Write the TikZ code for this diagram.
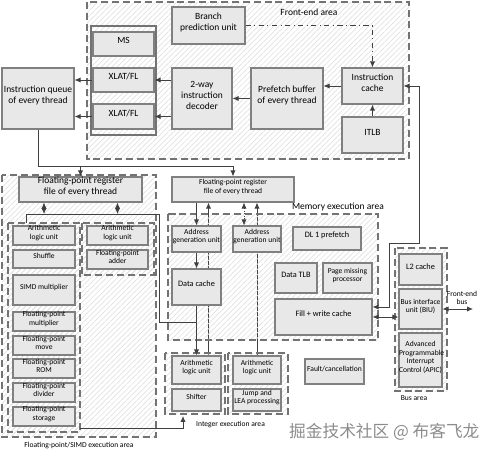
\documentclass[tikz,border=0pt]{standalone}
\usepackage{fontspec}
\setmainfont{Carlito}
\newfontfamily\cjkfont{Noto Sans CJK SC}
\usetikzlibrary{arrows.meta,patterns,fit,calc}
\pgfdeclarelayer{wires}
\pgfsetlayers{wires,main}
\newcommand{\bigfont}{\fontsize{5.4}{6.3}\selectfont}
\newcommand{\midfont}{\fontsize{4.7}{5.4}\selectfont}
\newcommand{\smallfont}{\fontsize{4.3}{4.8}\selectfont}
\tikzset{
  area/.style={draw=black!55, line width=0.6pt, dash pattern=on 4pt off 2.2pt, pattern=north east lines, pattern color=black!12},
  unit/.style={draw=black!50, fill=black!9, line width=0.7pt, inner sep=0pt, align=center, font=\bigfont},
  wire/.style={draw=black!75, line width=0.45pt},
  flow/.style={wire, -{Latex[length=3.4pt,width=3pt]}},
  dflow/.style={wire, {Latex[length=3.4pt,width=3pt]}-{Latex[length=3.4pt,width=3pt]}},
}

\begin{document}
\begin{tikzpicture}[x=0.02cm, y=-0.02cm]
    \useasboundingbox (0,0) rectangle (480,453);
    % areas
    \draw[area] (87,2) rectangle (409,159); % front-end
    \draw[area] (2,175) rectangle (156,437); % floating point / SIMD
    \draw[area] (8,223) rectangle (80,432);
    \draw[area] (82,223) rectangle (154,275);
    \draw[area] (168,214) rectangle (378,340); % memory
    \draw[area] (165,353) rectangle (225,414); % integer
    \draw[area] (228,353) rectangle (288,414);
    \draw[area] (395,248) rectangle (447,391); % bus
    \draw[draw=black!55, line width=0.6pt] (91,26) rectangle (156,135);

    \node[font=\bigfont] (felabel) at (309,12) {Front-end area};
    \node[font=\bigfont, anchor=east] (memlabel) at (390,207) {Memory execution area};
    \node[font=\smallfont] (fplabel) at (79,446) {Floating-point/SIMD execution area};
    \node[font=\smallfont, anchor=west] (intlabel) at (190,425) {Integer execution area};
    \node[font=\smallfont] (buslabel) at (414,398) {Bus area};

    % front-end units
    \node[unit, fit={(172,7) (245,44)}] (bpu) {Branch\\prediction unit};
    \node[unit, fit={(93,32) (154,56)}] (ms) {MS};
    \node[unit, fit={(93,68) (154,92)}] (xlat1) {XLAT/FL};
    \node[unit, fit={(93,104) (154,129)}] (xlat2) {XLAT/FL};
    \node[unit, fit={(172,68) (232,129)}] (dec) {2-way\\instruction\\decoder};
    \node[unit, fit={(2,68) (74,129)}] (queue) {Instruction queue\\of every thread};
    \node[unit, fit={(251,68) (323,129)}] (pfb) {Prefetch buffer\\of every thread};
    \node[unit, fit={(342,68) (403,104)}] (icache) {Instruction\\cache};
    \node[unit, fit={(342,117) (403,153)}] (itlb) {ITLB};

    % floating point units
    \node[unit, fit={(19,177) (142,202)}] (fpreg) {Floating-point register\\file of every thread};
    \node[unit, font=\smallfont, fit={(13,226) (75,245)}] (fpalu1) {Arithmetic\\logic unit};
    \node[unit, font=\smallfont, fit={(13,250) (75,268)}] (shuffle) {Shuffle};
    \node[unit, font=\smallfont, fit={(13,275) (75,305)}] (simdmul) {SIMD multiplier};
    \foreach \y/\name/\txt in {312/fpmul/multiplier, 336/fpmove/move, 359/fprom/ROM, 383/fpdiv/divider, 407/fpstore/storage}{
        \node[unit, font=\smallfont, fit={(13,\y) (75,\y+19)}] (\name) {Floating-point\\\txt};
    }
    \node[unit, font=\smallfont, fit={(87,226) (148,245)}] (fpalu2) {Arithmetic\\logic unit};
    \node[unit, font=\smallfont, fit={(87,250) (148,269)}] (fpadd) {Floating-point\\adder};

    % memory units
    \node[unit, font=\smallfont, fit={(172,177) (294,202)}] (intreg) {Floating-point register\\file of every thread};
    \node[unit, font=\smallfont, fit={(172,226) (221,252)}] (agu1) {Address\\generation unit};
    \node[unit, font=\smallfont, fit={(233,226) (281,252)}] (agu2) {Address\\generation unit};
    \node[unit, font=\midfont, fit={(293,227) (361,250)}] (dlpf) {DL 1 prefetch};
    \node[unit, font=\midfont, fit={(172,269) (221,305)}] (dcache) {Data cache};
    \node[unit, font=\midfont, fit={(275,263) (317,293)}] (dtlb) {Data TLB};
    \node[unit, font=\smallfont, fit={(323,263) (372,293)}] (pmp) {Page missing\\processor};
    \node[unit, font=\midfont, fit={(275,299) (372,335)}] (fwc) {Fill + write cache};

    % integer units
    \node[unit, font=\smallfont, fit={(172,356) (221,384)}] (ialu1) {Arithmetic\\logic unit};
    \node[unit, font=\smallfont, fit={(172,389) (221,411)}] (shifter) {Shifter};
    \node[unit, font=\smallfont, fit={(233,356) (281,384)}] (ialu2) {Arithmetic\\logic unit};
    \node[unit, font=\smallfont, fit={(233,389) (281,411)}] (jump) {Jump and\\LEA processing};
    \node[unit, font=\smallfont, fit={(305,359) (364,384)}] (fault) {Fault/cancellation};

    % bus units
    \node[unit, font=\midfont, fit={(399,254) (442,285)}] (l2) {L2 cache};
    \node[unit, font=\smallfont, fit={(399,289) (442,329)}] (biu) {Bus interface\\unit (BIU)};
    \node[unit, font=\smallfont, fit={(399,333) (442,387)}] (apic) {Advanced\\Programmable\\Interrupt\\Control (APIC)};
    \node[font=\smallfont, align=center, inner sep=1pt] (fsblabel) at (462,298) {Front-end\\bus};

    % front-end flow
    \draw[flow, dash dot] (bpu.east) -| (icache.north);
    \draw[flow] (icache.west) -- (icache.west -| pfb.east);
    \draw[flow] (pfb.west) -- (pfb.west -| dec.east);
    \draw[flow] (dec.west |- xlat1.east) -- (xlat1.east);
    \draw[flow] (dec.west |- xlat2.east) -- (xlat2.east);
    \draw[flow] (xlat1.west) -- (xlat1.west -| queue.east);
    \draw[flow] (xlat2.west) -- (xlat2.west -| queue.east);
    \draw[flow] (itlb.north) -- (icache.south);

    % queue to register files
    \coordinate (qbus) at (38,166);
    \draw[flow] (queue.south) -- (queue.south |- qbus) -| (fpreg.north);
    \draw[flow] (qbus -| fpreg.north) -| (intreg.north);

    % floating point links
    \coordinate (fpsub) at (26,223);
    \coordinate (fpbus) at (26,214);
    \coordinate (fpjoin) at (159,322);
    \draw[wire] (fpsub) -- (fpbus) -| (fpjoin) -- (fpjoin -| dcache.south);
    \draw[dflow] (fpreg.south -| fpalu1.north) -- (fpbus -| fpalu1.north);
    \draw[dflow] (fpreg.south -| fpalu2.north) -- (fpbus -| fpalu2.north);
    \coordinate (fpout) at (80,428);
    \coordinate (intin) at (183,416);
    \draw[flow] (fpout) -| (intin);

    % memory links
    \draw[flow] (intreg.south -| agu1.north) -- (agu1.north);
    \draw[flow] (agu1.south) -- (dcache.north);
    \draw[flow] (dcache.south) -- (ialu1.north);
    \coordinate (up1) at ($(ialu1.north)+(12,0)$);
    \begin{pgfonlayer}{wires}
        \draw[flow] (up1) -- (up1 |- intreg.south);
        \draw[flow] (ialu2.north) -- (ialu2.north |- intreg.south);
    \end{pgfonlayer}
    \coordinate (agulink) at ($(agu2.north)+(-13,0)$);
    \draw[dflow, densely dotted, line width=0.4pt] (agulink |- intreg.south) -- (agulink);

    % bus links
    \draw[dflow] (fwc.east) -- (fwc.east -| biu.west);
    \coordinate (fwcup) at ($(fwc.east)+(0,-10)$);
    \coordinate (retL) at (389,243);
    \coordinate (retR) at (419,243);
    \draw[dflow] (fwcup) -| (retL) -- (retR) |- (icache.east);
    \coordinate (fsb) at (473,309);
    \draw[dflow] (biu.east) -- (biu.east -| fsb);

    \node[font=\cjkfont\fontsize{9.5}{11}\selectfont, text=black!45, anchor=west] (wm) at (283,432) {掘金技术社区 @ 布客飞龙};
\end{tikzpicture}
\end{document}
